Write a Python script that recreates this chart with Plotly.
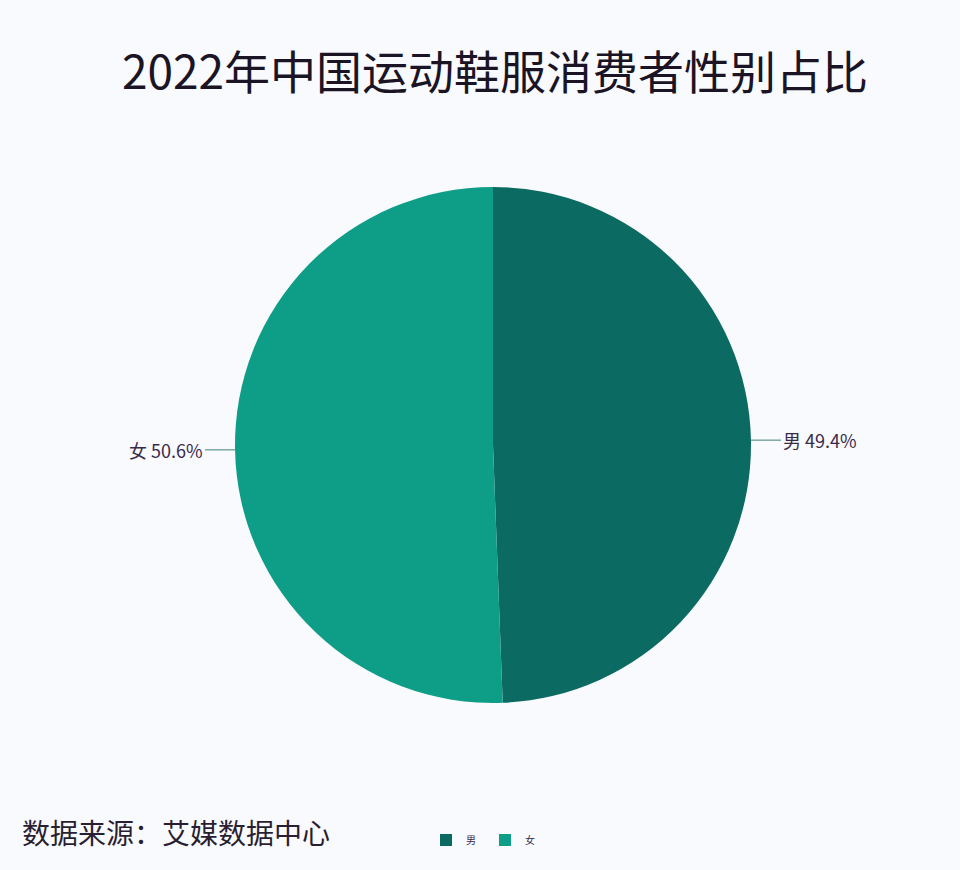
import numpy as np
import plotly.graph_objects as go

# data
genders = ["男", "女"]
shares = [49.4, 50.6]
colors = ["#0b6a62", "#0e9e87"]

title_text = "2022年中国运动鞋服消费者性别占比"
source_text = "数据来源：艾媒数据中心"

W, H = 960, 870
# pie placement (pixels -> paper coords)
cx, cy, r = 493, 445, 258
dom_x = [(cx - r) / W, (cx + r) / W]
dom_y = [(H - cy - r) / H, (H - cy + r) / H]

fig = go.Figure(go.Pie(
    labels=genders,
    values=shares,
    sort=False,
    direction="clockwise",
    rotation=0,
    marker=dict(colors=colors, line=dict(width=0)),
    textinfo="none",
    domain=dict(x=dom_x, y=dom_y),
))

# outside labels with short leader lines
total = sum(shares)
start = 0.0
for g, v in zip(genders, shares):
    mid = (start + v / 2) / total * 2 * np.pi
    start += v
    px_ = cx + r * np.sin(mid)
    py_ = cy - r * np.cos(mid)
    right = np.sin(mid) >= 0
    fig.add_annotation(
        x=px_ / W, y=1 - py_ / H, xref="paper", yref="paper",
        text=f"{g} {v:.1f}%",
        showarrow=True, arrowhead=0, arrowwidth=1, arrowcolor="#3f7f78",
        ax=30 if right else -30, ay=0,
        xanchor="left" if right else "right",
        font=dict(size=18, color="#3a2a4a"),
    )

fig.add_annotation(
    x=20 / W, y=1 - 832 / H, xref="paper", yref="paper",
    text=source_text, showarrow=False, xanchor="left", yanchor="middle",
    font=dict(size=28, color="#2a1f30", family="Noto Sans CJK SC"),
)

fig.update_layout(
    width=W, height=H,
    margin=dict(l=0, r=0, t=0, b=0),
    paper_bgcolor="#f9fafd",
    plot_bgcolor="#f9fafd",
    font=dict(family="Noto Sans CJK SC, Noto Sans, sans-serif"),
    title=dict(
        text=title_text, x=495 / W, xanchor="center",
        y=1 - 73 / H, yanchor="middle",
        font=dict(size=46, color="#1a1424"),
    ),
    showlegend=True,
    legend=dict(
        orientation="h", x=485 / W, xanchor="center",
        y=1 - 840 / H, yanchor="middle",
        font=dict(size=10, color="#3a2a4a"),
        itemwidth=30, entrywidth=14, bgcolor="rgba(0,0,0,0)",
    ),
)

fig.write_html("out.html", config={"displayModeBar": False},
               post_script="document.body.style.margin='0px';")
